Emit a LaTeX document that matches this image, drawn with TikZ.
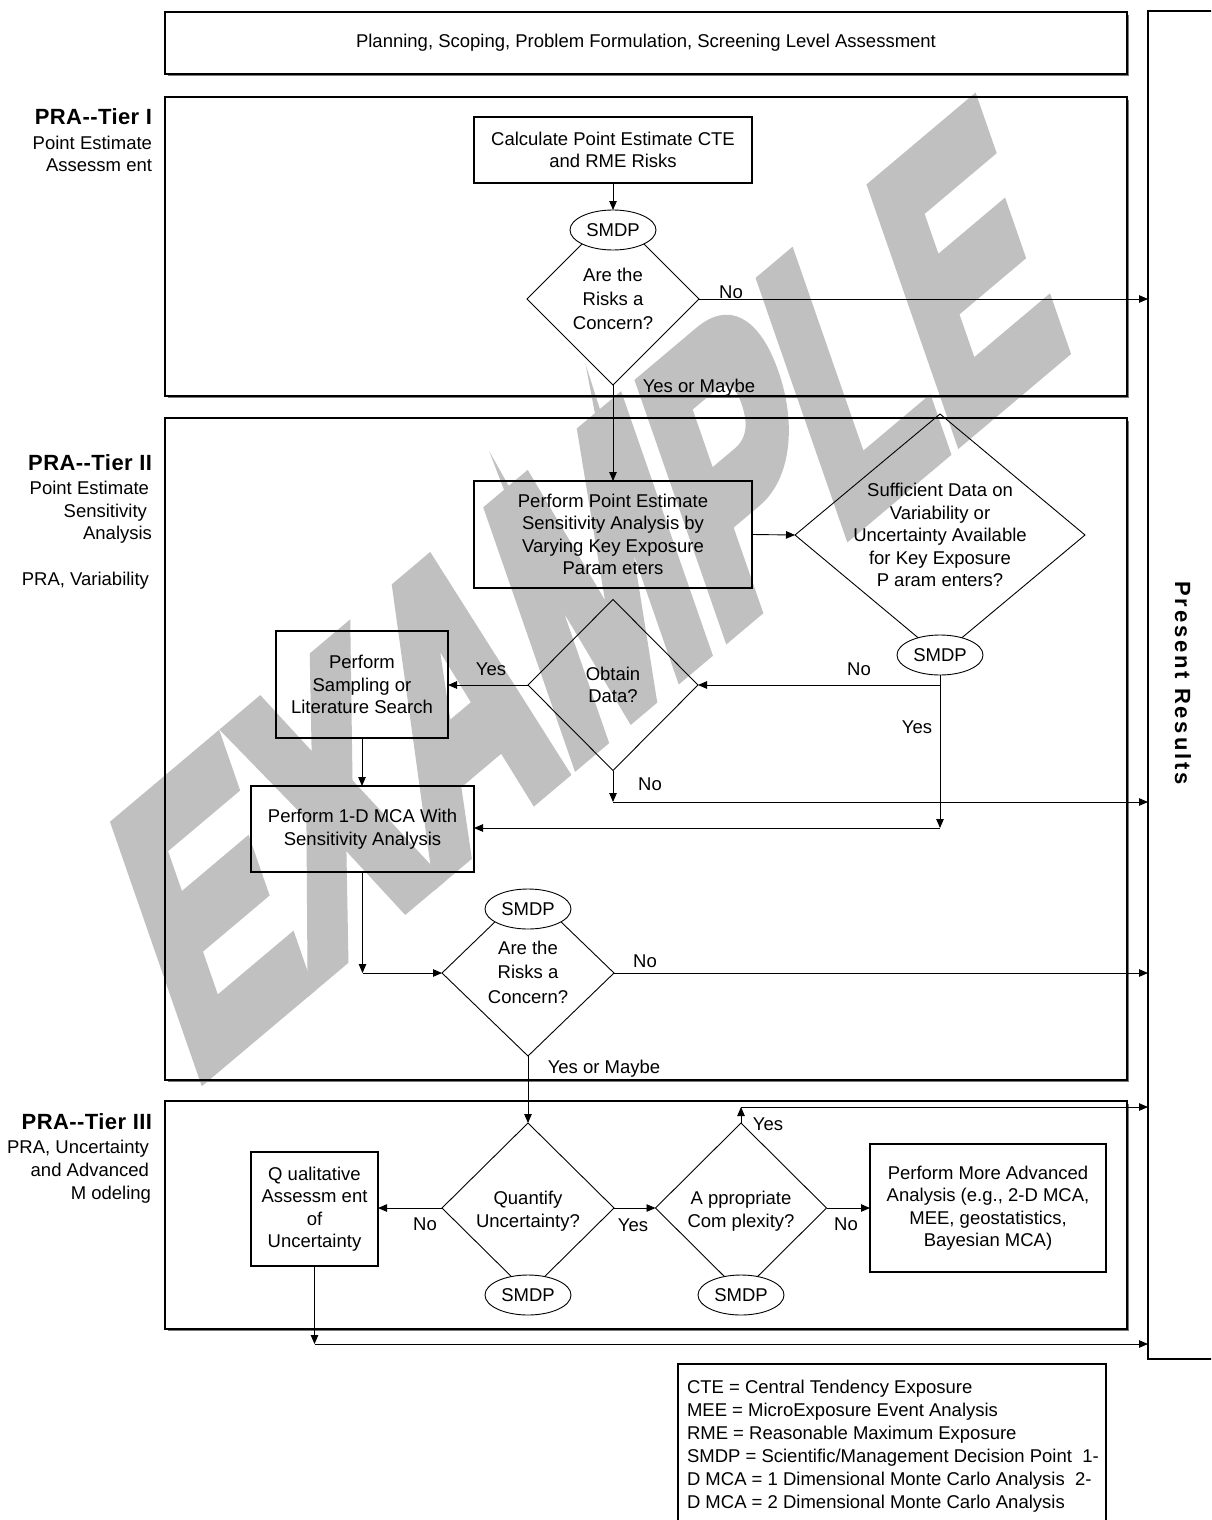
\documentclass[tikz,border=0pt]{standalone}
\usepackage{fontspec}
\setmainfont{Liberation Sans}
\newfontfamily\wmfont{Liberation Sans}[BoldFeatures={FakeBold=6}]
\usetikzlibrary{arrows.meta,shapes.geometric}
\definecolor{wmgray}{RGB}{192,192,192}
\definecolor{shdgray}{RGB}{120,120,120}
\newcommand\boxshadow[1]{\draw[shd] ([shift={(1.8pt,-3pt)}]#1.north east) -- ([shift={(1.8pt,-1.8pt)}]#1.south east) -- ([shift={(3pt,-1.8pt)}]#1.south west);}
\begin{document}
\begin{tikzpicture}[x=1pt,y=-1pt,
  every node/.style={font=\fontsize{18.5}{22.5}\selectfont, inner sep=0pt, outer sep=0pt},
  box/.style={draw, line width=1.1pt, rectangle, align=center},
  tierbox/.style={draw, line width=1.1pt, rectangle},
  dia/.style={draw, diamond, line width=0.9pt},
  smdp/.style={draw, ellipse, fill=white, line width=0.9pt, minimum width=86pt, minimum height=40pt},
  arr/.style={line width=0.9pt, -{Triangle[length=9pt,width=7.5pt]}},
  shd/.style={line width=0.9pt, shdgray},
  lab/.style={anchor=east},
  ttl/.style={anchor=east, font=\fontsize{22}{24}\selectfont\bfseries\addfontfeatures{LetterSpace=2}}]

\useasboundingbox (0,0) rectangle (1211,1520);
\clip (0,0) rectangle (1211,1520);
\fill[white] (0,0) rectangle (1211,1520);

% watermark
\begin{scope}[shift={(588,590)}, yscale=1.558, rotate=28.4, xscale=0.80]
  \node[transform shape, text=wmgray, font=\wmfont\bfseries\fontsize{258}{258}\selectfont] (wm) at (0,0) {EXAMPLE};
\end{scope}

% frames
\node[box, minimum width=962pt, minimum height=62pt] (plan) at (646,43) {Planning, Scoping, Problem Formulation, Screening Level Assessment};
\node[tierbox, minimum width=962pt, minimum height=299pt] (tier1) at (646,246.5) {};
\node[tierbox, minimum width=962pt, minimum height=662pt] (tier2) at (646,749) {};
\node[tierbox, minimum width=962pt, minimum height=228pt] (tier3) at (646,1215) {};
\node[tierbox, minimum width=100pt, minimum height=1348pt] (pr) at (1198,685) {};
\node[rotate=-90, font=\fontsize{22}{24}\selectfont\bfseries\addfontfeatures{LetterSpace=13}] (prt) at (1183,683) {Present Results};
\node[tierbox, minimum width=428pt, minimum height=190pt] (leg) at (892,1459) {};
\node[align=left, anchor=west, font=\fontsize{18.5}{23}\selectfont] (legt) at (687,1446) {CTE = Central Tendency Exposure\\MEE = MicroExposure Event Analysis\\RME = Reasonable Maximum Exposure\\SMDP = Scientific/Management Decision Point~ 1-\\D MCA = 1 Dimensional Monte Carlo Analysis~ 2-\\D MCA = 2 Dimensional Monte Carlo Analysis};

\boxshadow{plan}
\boxshadow{tier1}
\boxshadow{tier2}
\boxshadow{tier3}

% tier labels
\node[ttl] (t1a) at (152,117) {PRA-{}-Tier I};
\node[lab] (t1b) at (152,143) {Point Estimate};
\node[lab] (t1c) at (152,165) {Assessm ent};
\node[ttl] (t2a) at (152,463) {PRA-{}-Tier II};
\node[lab] (t2b) at (149,488) {Point Estimate};
\node[lab] (t2c) at (147,513) {Sensitivity};
\node[lab] (t2d) at (152,535) {Analysis};
\node[lab] (t2e) at (149,581) {PRA, Variability};
\node[ttl] (t3a) at (152,1122) {PRA-{}-Tier III};
\node[lab] (t3b) at (149,1149) {PRA, Uncertainty};
\node[lab] (t3c) at (149,1170) {and Advanced};
\node[lab] (t3d) at (151,1195) {M odeling};

% process boxes
\node[box, minimum width=278pt, minimum height=66pt] (calc) at (613,150) {Calculate Point Estimate CTE\\and RME Risks};
\node[box, minimum width=278pt, minimum height=107pt] (ppe) at (613,534.5) {Perform Point Estimate\\Sensitivity Analysis by\\Varying Key Exposure\\Param eters};
\node[box, minimum width=172pt, minimum height=107pt] (samp) at (362,684.5) {Perform\\Sampling or\\Literature Search};
\node[box, minimum width=223pt, minimum height=86pt] (mca) at (362.5,829) {Perform 1-D MCA With\\Sensitivity Analysis};
\node[box, minimum width=127pt, minimum height=114pt] (qual) at (314.5,1209) {Q ualitative\\Assessm ent\\of\\Uncertainty};
\node[box, minimum width=236pt, minimum height=128pt] (adv) at (988,1208) {Perform More Advanced\\Analysis (e.g., 2-D MCA,\\MEE, geostatistics,\\Bayesian MCA)};

% decisions
\node[dia, minimum width=172pt, minimum height=172pt] (d1) at (613,299) {};
\node[dia, minimum width=290pt, minimum height=242pt] (d2) at (940,535) {};
\node[dia, minimum width=170pt, minimum height=171pt] (d3) at (613,685) {};
\node[dia, minimum width=172pt, minimum height=166pt] (d4) at (528,973) {};
\node[dia, minimum width=172pt, minimum height=170pt] (d5) at (528,1208) {};
\node[dia, minimum width=171pt, minimum height=170pt] (d6) at (741,1208) {};

\node[align=center] (d1t) at (613,299) {Are the\\[1.5pt]Risks a\\[1.5pt]Concern?};
\node[align=center] (d2t) at (940,535) {Sufficient Data on\\Variability or\\Uncertainty Available\\for Key Exposure\\P aram enters?};
\node[align=center] (d3t) at (613,685) {Obtain\\Data?};
\node[align=center] (d4t) at (528,972) {Are the\\[2pt]Risks a\\[2pt]Concern?};
\node[align=center] (d5t) at (528,1211) {Quantify\\Uncertainty?};
\node[align=center] (d6t) at (741,1211) {A ppropriate\\Com plexity?};

\node[smdp] (e1) at (613,230) {SMDP};
\node[smdp] (e2) at (940,655) {SMDP};
\node[smdp] (e3) at (528,909) {SMDP};
\node[smdp] (e4) at (528,1295) {SMDP};
\node[smdp] (e5) at (741,1295) {SMDP};

% connectors
\coordinate (yesB) at (940,828);
\coordinate (noB) at (940,685);
\coordinate (noC) at (613,802);
\coordinate (mcaD) at (mca.south |- d4.west);
\coordinate (yesF) at (741,1107);
\coordinate (qualD) at (314.5,1344);

\draw[arr] (calc.south) -- (e1.north);
\draw[arr] (d1.east) -- (d1.east -| pr.west);
\draw[arr] (d1.south) -- (ppe.north);
\draw[arr] (ppe.east) -- (d2.west);
\draw[arr] (e2.south) -- (yesB);
\draw[arr] (yesB) -- (yesB -| mca.east);
\draw[arr] (noB) -- (d3.east);
\draw[arr] (d3.west) -- (d3.west -| samp.east);
\draw[arr] (samp.south) -- (samp.south |- mca.north);
\draw[arr] (d3.south) -- (noC);
\draw[arr] (noC) -- (noC -| pr.west);
\draw[arr] (mca.south) -- (mcaD);
\draw[arr] (mcaD) -- (d4.west);
\draw[arr] (d4.east) -- (d4.east -| pr.west);
\draw[arr] (d4.south) -- (d5.north);
\draw[arr] (d5.west) -- (d5.west -| qual.east);
\draw[arr] (d5.east) -- (d6.west);
\draw[arr] (d6.east) -- (d6.east -| adv.west);
\draw[arr] (d6.north) -- (yesF);
\draw[arr] (yesF) -- (yesF -| pr.west);
\draw[arr] (qual.south) -- (qualD);
\draw[arr] (qualD) -- (qualD -| pr.west);

% connector labels
\node (lNo1) at (731,292) {No};
\node (lYM1) at (699,388) {Yes or Maybe};
\node (lNo2) at (859,669) {No};
\node (lYes2) at (917,727) {Yes};
\node (lYes3) at (491,669) {Yes};
\node (lNo3) at (650,784) {No};
\node (lNo4) at (645,961) {No};
\node (lYM2) at (604,1069) {Yes or Maybe};
\node (lYes6) at (768,1124) {Yes};
\node (lNo5) at (425,1224) {No};
\node (lYes5) at (633,1225) {Yes};
\node (lNo6) at (846,1224) {No};
\end{tikzpicture}
\end{document}
